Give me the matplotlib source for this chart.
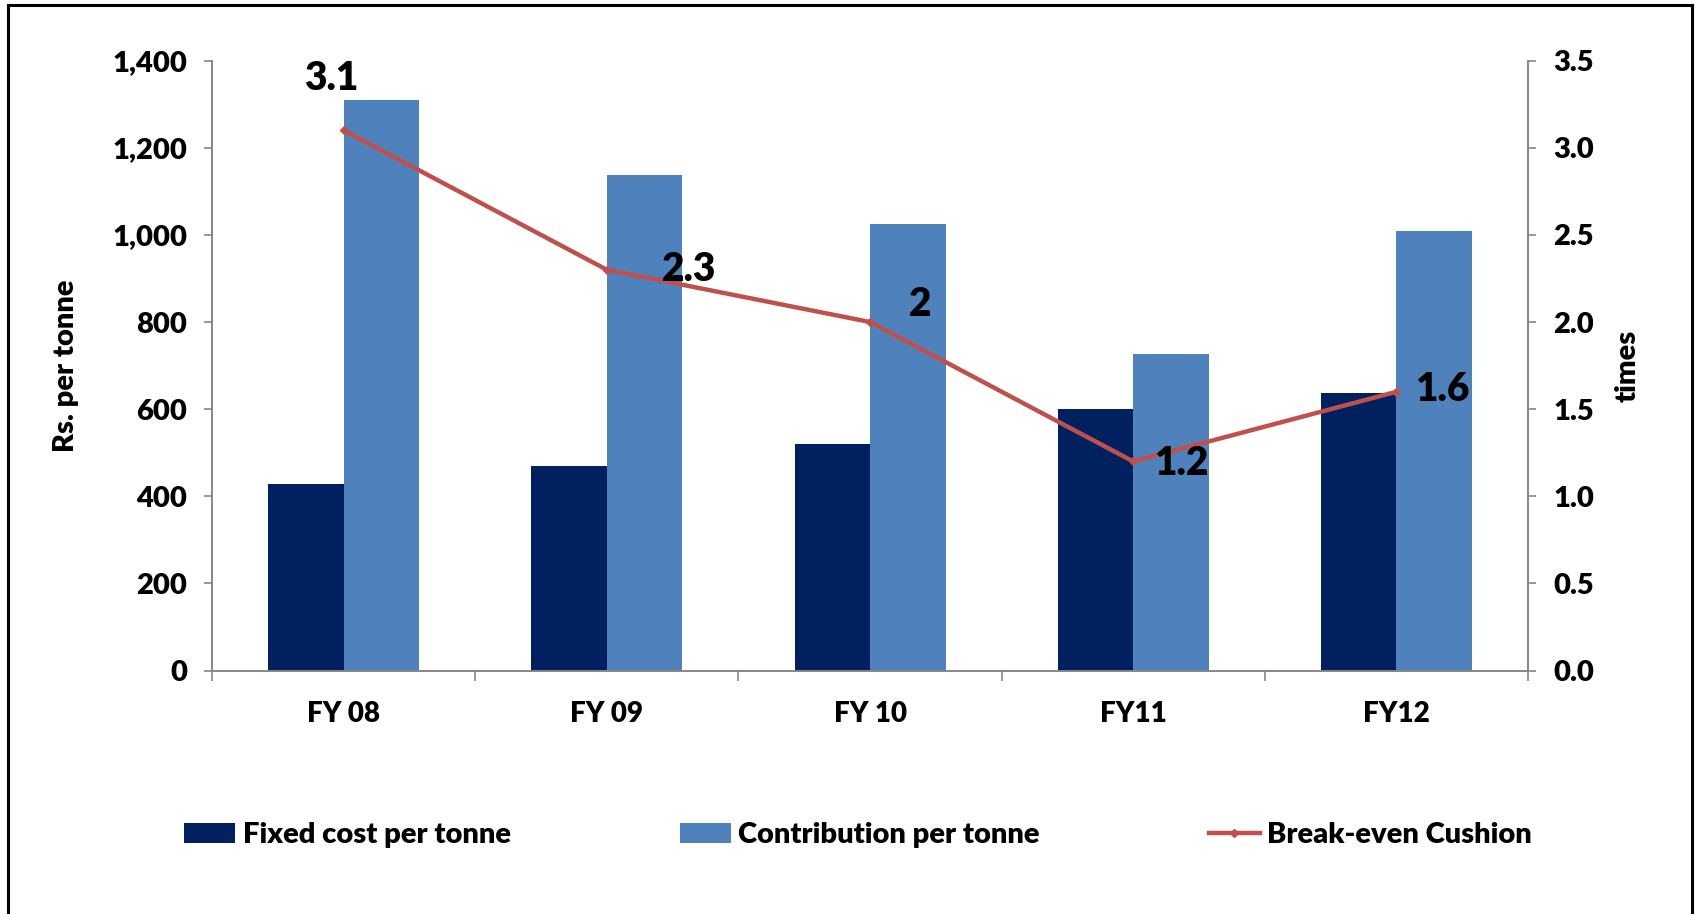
import numpy as np
import matplotlib.pyplot as plt
from matplotlib.patches import Rectangle
from matplotlib.ticker import FuncFormatter, FixedLocator

# ----- Data -----
years = ["FY 08", "FY 09", "FY 10", "FY11", "FY12"]
fixed_cost = [429, 469, 521, 601, 636]
contribution = [1310, 1137, 1025, 727, 1008]
cushion = [3.1, 2.3, 2.0, 1.2, 1.6]
cushion_labels = ["3.1", "2.3", "2", "1.2", "1.6"]
label_offsets = [(-12, 52), (82, 0), (50, 18), (48, -2), (46, 2)]

plt.rcParams['font.family'] = ['Lato', 'DejaVu Sans']
plt.rcParams['font.weight'] = 'heavy'
plt.rcParams['axes.labelweight'] = 'heavy'

grey = "#868686"
navy = "#002060"
blue = "#4F81BD"
red = "#C0504D"
fs = 21

fig = plt.figure(figsize=(16.96, 9.14), dpi=100)
ax = fig.add_axes([0.125, 0.2663, 0.776, 0.6674])
ax2 = ax.twinx()

x = np.arange(len(years))
w = 0.287
b1 = ax.bar(x - w / 2, fixed_cost, w, color=navy, label="Fixed cost per tonne", zorder=2)
b2 = ax.bar(x + w / 2, contribution, w, color=blue, label="Contribution per tonne", zorder=2)

ln, = ax2.plot(x, cushion, color=red, lw=3.2, marker="D", ms=4.5, label="Break-even Cushion")
for xi, yi, lab, off in zip(x, cushion, cushion_labels, label_offsets):
    ax2.annotate(lab, (xi, yi), xytext=off, textcoords="offset pixels",
                 ha="center", va="center", fontsize=28)

ax.set_xlim(-0.5, 4.5)
ax.set_ylim(0, 1400)
ax.set_yticks(np.arange(0, 1401, 200))
ax.yaxis.set_major_formatter(FuncFormatter(lambda v, p: f"{int(v):,}"))
ax2.set_ylim(0, 3.5)
ax2.set_yticks(np.arange(0, 3.51, 0.5))
ax2.yaxis.set_major_formatter(FuncFormatter(lambda v, p: f"{v:.1f}"))

ax.set_xticks(x)
ax.set_xticklabels(years)
ax.xaxis.set_minor_locator(FixedLocator(np.arange(-0.5, 4.6, 1)))
ax.tick_params(axis="x", which="major", length=0, pad=22, labelsize=20)
ax.tick_params(axis="x", which="minor", length=7, width=1.2, color=grey, direction="out")
ax.tick_params(axis="y", length=6, width=1.2, color=grey, labelsize=fs, pad=12)
ax2.tick_params(axis="y", length=6, width=1.2, color=grey, labelsize=fs, pad=12)

for a in (ax, ax2):
    a.spines["top"].set_visible(False)
    for s in ("left", "right", "bottom"):
        a.spines[s].set_color(grey)
        a.spines[s].set_linewidth(1.2)

ax.set_ylabel("Rs. per tonne", fontsize=fs, labelpad=24)
ax2.set_ylabel("times", fontsize=fs, labelpad=15)

fig.legend([b1, b2, ln], ["Fixed cost per tonne", "Contribution per tonne", "Break-even Cushion"],
           loc="center", bbox_to_anchor=(0.506, 0.086), ncol=3, frameon=False,
           fontsize=fs, handlelength=1.75, handleheight=0.65, handletextpad=0.25,
           columnspacing=5.8)

fig.patches.append(Rectangle((8 / 1696, -0.05), 1684 / 1696, 1.05 - 5 / 914,
                             transform=fig.transFigure, fill=False, ec="black", lw=2.2))

fig.savefig("out.png", dpi=100)
